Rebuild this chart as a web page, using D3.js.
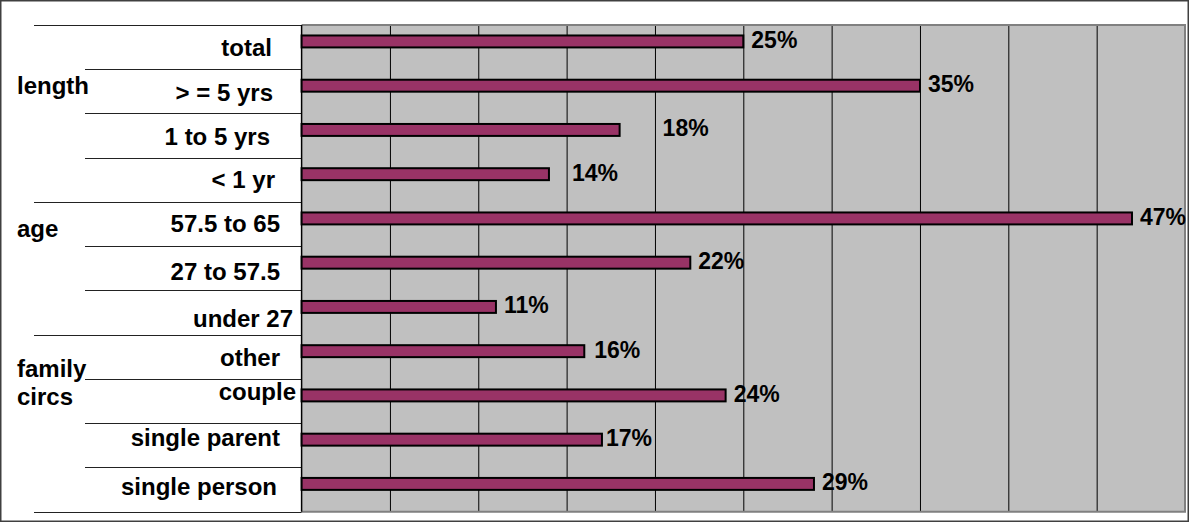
<!DOCTYPE html>
<html>
<head>
<meta charset="utf-8">
<script src="https://cdn.jsdelivr.net/npm/d3@7"></script>
<style>
  html, body { margin: 0; padding: 0; background: #ffffff; }
  svg { display: block; }
  text { font-family: "Liberation Sans", Arial, sans-serif; font-weight: bold; fill: #000; }
</style>
</head>
<body>
<svg id="chart" width="1189" height="522"></svg>
<script>
// ---------- data ----------
const categories = ["total", "> = 5 yrs", "1 to 5 yrs", "< 1 yr", "57.5 to 65", "27 to 57.5", "under 27", "other", "couple", "single parent", "single person"];
const values = [0.25, 0.35, 0.18, 0.14, 0.47, 0.22, 0.11, 0.16, 0.24, 0.17, 0.29];
const valueLabels = ["25%", "35%", "18%", "14%", "47%", "22%", "11%", "16%", "24%", "17%", "29%"];
const groupNames = ["length", "age", "family circs"];
const groupSizes = [4, 3, 4];
const xDomain = [0, 0.5];

// ---------- layout ----------
const W = 1189, H = 522;
const plot = { left: 301.6, right: 1185, top: 25, bottom: 511.7 };

// label fine-tuning (dx, dy) for category labels, and dx for value labels
const catNudge = {
  "total": [-8, 0], "> = 5 yrs": [-7, 1], "1 to 5 yrs": [-10, 1], "< 1 yr": [-5, 0],
  "57.5 to 65": [0, -1], "27 to 57.5": [0, 3], "under 27": [13, 6], "other": [0, 1],
  "couple": [16, -10], "single parent": [0, -8], "single person": [-3, -3]
};
const valNudge = { "18%": 35, "14%": 15, "17%": -4, "16%": 2 };
const groupLineOffsets = { "length": [69], "age": [35], "family circs": [42, 70] };

const svg = d3.select("#chart");

const x = d3.scaleLinear().domain(xDomain).range([plot.left, plot.right]);
const y = d3.scaleBand().domain(categories).range([plot.top, plot.bottom]).padding(0);
const bw = y.bandwidth();

// outer frame
svg.append("rect")
  .attr("x", 0.75).attr("y", 0.75).attr("width", W - 1.5).attr("height", H - 1.5)
  .attr("fill", "#fff").attr("stroke", "#404040").attr("stroke-width", 1.5);

// plot background
svg.append("rect")
  .attr("x", plot.left).attr("y", plot.top)
  .attr("width", plot.right - plot.left).attr("height", plot.bottom - plot.top)
  .attr("fill", "#C0C0C0");

// vertical gridlines
const grid = svg.append("g")
  .attr("transform", `translate(0,${plot.top})`)
  .call(d3.axisTop(x).ticks(10).tickSize(-(plot.bottom - plot.top)).tickFormat(""));
grid.select(".domain").remove();
grid.selectAll(".tick")
  .filter(d => d <= xDomain[0] || d >= xDomain[1]).remove();
grid.selectAll(".tick line").attr("stroke", "#000").attr("stroke-width", 1);

// plot border (top/right/bottom grey)
svg.append("path")
  .attr("d", `M${plot.left},${plot.top}H${plot.right}V${plot.bottom}H${plot.left}`)
  .attr("fill", "none").attr("stroke", "#808080").attr("stroke-width", 2);

// category table lines
const groupStarts = [];
let acc = 0;
groupSizes.forEach(s => { groupStarts.push(acc); acc += s; });
const boundaries = d3.range(categories.length + 1);
svg.append("g").selectAll("line")
  .data(boundaries)
  .join("line")
  .attr("x1", i => (groupStarts.includes(i) || i === categories.length) ? 34 : 85)
  .attr("x2", plot.left)
  .attr("y1", i => Math.round(plot.top + i * bw) + 0.5)
  .attr("y2", i => Math.round(plot.top + i * bw) + 0.5)
  .attr("stroke", "#222").attr("stroke-width", 1);

// left axis line
svg.append("line")
  .attr("x1", plot.left).attr("x2", plot.left)
  .attr("y1", plot.top).attr("y2", plot.bottom)
  .attr("stroke", "#000").attr("stroke-width", 1.5);

// bars
const barH = bw * 0.27;
svg.append("g").selectAll("rect")
  .data(categories)
  .join("rect")
  .attr("x", x(0))
  .attr("y", c => y(c) + bw / 2 - barH + 0.3)
  .attr("width", (c, i) => x(values[i]) - x(0))
  .attr("height", barH)
  .attr("fill", "#993366")
  .attr("stroke", "#000").attr("stroke-width", 2);

// value labels
svg.append("g").selectAll("text")
  .data(categories)
  .join("text")
  .attr("x", (c, i) => x(values[i]) + 8 + (valNudge[valueLabels[i]] || 0))
  .attr("y", c => y(c) + bw / 2 + 0.8)
  .attr("font-size", "23px")
  .text((c, i) => valueLabels[i]);

// category labels
svg.append("g").selectAll("text")
  .data(categories)
  .join("text")
  .attr("text-anchor", "end")
  .attr("x", c => 280 + (catNudge[c] ? catNudge[c][0] : 0))
  .attr("y", c => y(c) + bw / 2 + 8.6 + (catNudge[c] ? catNudge[c][1] : 0))
  .attr("font-size", "24px")
  .text(c => c);

// group labels
groupNames.forEach((g, gi) => {
  const top = y(categories[groupStarts[gi]]);
  const words = g.split(" ");
  words.forEach((w, wi) => {
    svg.append("text")
      .attr("x", 17)
      .attr("y", top + groupLineOffsets[g][wi])
      .attr("font-size", "24px")
      .text(w);
  });
});
</script>
</body>
</html>
